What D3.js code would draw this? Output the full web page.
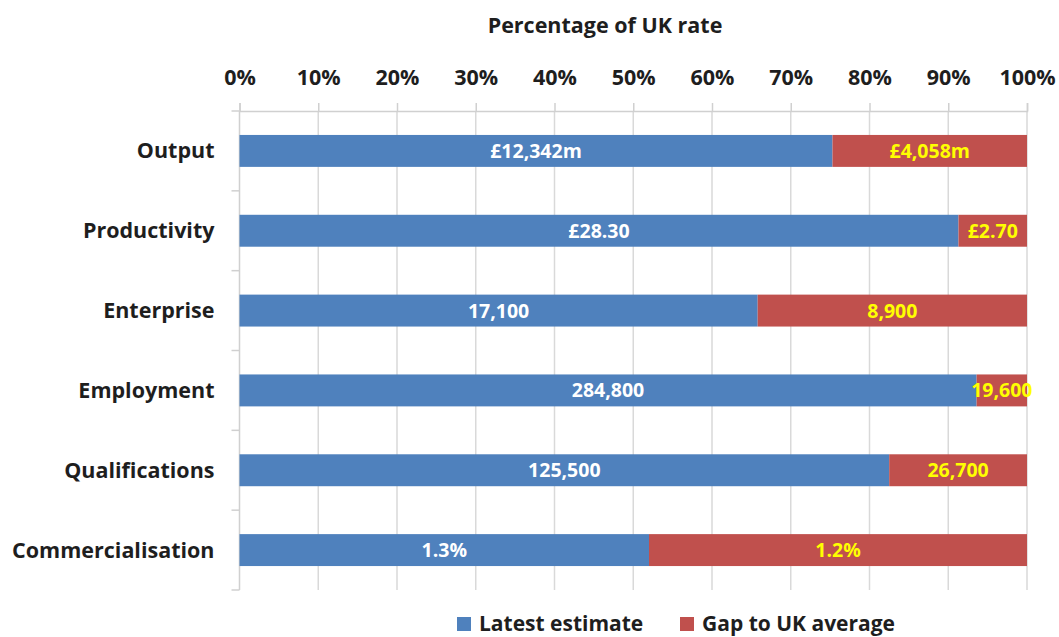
<!DOCTYPE html>
<html>
<head>
<meta charset="utf-8">
<script src="https://cdn.jsdelivr.net/npm/d3@7"></script>
<style>
    body { margin: 0; background: #fff; }
    svg text { font-family: "Open Sans", sans-serif; font-weight: bold; }
</style>
</head>
<body>
<div id="chart"></div>
<script>
// data
var categories = ["Output", "Productivity", "Enterprise", "Employment", "Qualifications", "Commercialisation"];
var latestPct = [75.3, 91.3, 65.8, 93.6, 82.5, 52.0];
var gapPct = [24.7, 8.7, 34.2, 6.4, 17.5, 48.0];
var latestLabels = ["£12,342m", "£28.30", "17,100", "284,800", "125,500", "1.3%"];
var gapLabels = ["£4,058m", "£2.70", "8,900", "19,600", "26,700", "1.2%"];
var xTicks = [0, 10, 20, 30, 40, 50, 60, 70, 80, 90, 100];
var seriesNames = ["Latest estimate", "Gap to UK average"];

var W = 1059, H = 637;
var margin = {top: 111, left: 239.5, right: 32, bottom: 47},
    width = W - margin.left - margin.right,
    height = H - margin.top - margin.bottom;

var colors = ["#4f81bd", "#c0504d"];
var labelColors = ["#ffffff", "#ffff00"];
var textColor = "#1e1e1e";

var svg = d3.select("#chart").append("svg")
    .attr("width", W)
    .attr("height", H);

var g = svg.append("g")
    .attr("transform", "translate(" + margin.left + "," + margin.top + ")");

var x = d3.scaleLinear().domain([0, 100]).range([0, width]);
var y = d3.scaleBand().domain(categories).range([0, height]).paddingInner(0.6).paddingOuter(0.3);

// gridlines
g.selectAll(".grid")
    .data(xTicks.slice(1))
    .enter().append("line")
    .attr("class", "grid")
    .attr("x1", function (d) { return x(d) })
    .attr("x2", function (d) { return x(d) })
    .attr("y1", 0)
    .attr("y2", height)
    .attr("stroke", "#d9d9d9")
    .attr("stroke-width", 1.5);

// top axis
var xAxis = g.append("g")
    .call(d3.axisTop(x).tickValues(xTicks).tickSize(8).tickPadding(18)
        .tickFormat(function (d) { return d + "%" }));
xAxis.select(".domain").attr("stroke", "#d0d0d0").attr("stroke-width", 1.5);
xAxis.selectAll(".tick line").attr("stroke", "#d0d0d0").attr("stroke-width", 1.5);
xAxis.selectAll(".tick text").attr("fill", textColor).style("font-size", "21.5px");

// left axis: line with ticks at category boundaries
var bounds = d3.range(categories.length + 1).map(function (i) { return i * height / categories.length });
g.append("line")
    .attr("x1", 0).attr("x2", 0).attr("y1", 0).attr("y2", height)
    .attr("stroke", "#d0d0d0").attr("stroke-width", 1.5);
g.selectAll(".ytick")
    .data(bounds)
    .enter().append("line")
    .attr("x1", -8).attr("x2", 0)
    .attr("y1", function (d) { return d })
    .attr("y2", function (d) { return d })
    .attr("stroke", "#d0d0d0").attr("stroke-width", 1.5);

g.selectAll(".cat")
    .data(categories)
    .enter().append("text")
    .attr("x", -25)
    .attr("y", function (d) { return y(d) + y.bandwidth() / 2 })
    .attr("dy", "0.35em")
    .attr("text-anchor", "end")
    .attr("fill", textColor)
    .style("font-size", "21.5px")
    .text(function (d) { return d });

// stacked bars
var rows = categories.map(function (c, i) {
    return {cat: c, parts: [
        {x0: 0, x1: latestPct[i], label: latestLabels[i], s: 0},
        {x0: latestPct[i], x1: latestPct[i] + gapPct[i], label: gapLabels[i], s: 1}
    ]};
});

var row = g.selectAll(".row")
    .data(rows)
    .enter().append("g")
    .attr("transform", function (d) { return "translate(0," + y(d.cat) + ")" });

row.selectAll("rect")
    .data(function (d) { return d.parts })
    .enter().append("rect")
    .attr("x", function (d) { return x(d.x0) })
    .attr("width", function (d) { return x(d.x1) - x(d.x0) })
    .attr("y", 0)
    .attr("height", y.bandwidth())
    .attr("fill", function (d) { return colors[d.s] });

row.selectAll("text")
    .data(function (d) { return d.parts })
    .enter().append("text")
    .attr("x", function (d) { return (x(d.x0) + x(d.x1)) / 2 })
    .attr("y", y.bandwidth() / 2)
    .attr("dy", "0.36em")
    .attr("text-anchor", "middle")
    .attr("fill", function (d) { return labelColors[d.s] })
    .style("font-size", "19.5px")
    .text(function (d) { return d.label });

// title
svg.append("text")
    .attr("x", 605)
    .attr("y", 33)
    .attr("text-anchor", "middle")
    .attr("fill", textColor)
    .style("font-size", "21.5px")
    .text("Percentage of UK rate");

// legend
var legendX = [457, 680];
var legend = svg.selectAll(".legend")
    .data(seriesNames)
    .enter().append("g")
    .attr("transform", function (d, i) { return "translate(" + legendX[i] + ",622)" });
legend.append("rect")
    .attr("x", 0).attr("y", -5).attr("width", 14).attr("height", 14)
    .attr("fill", function (d, i) { return colors[i] });
legend.append("text")
    .attr("x", 22)
    .attr("dy", "0.45em")
    .attr("fill", textColor)
    .style("font-size", "21px")
    .text(function (d) { return d });
</script>
</body>
</html>
